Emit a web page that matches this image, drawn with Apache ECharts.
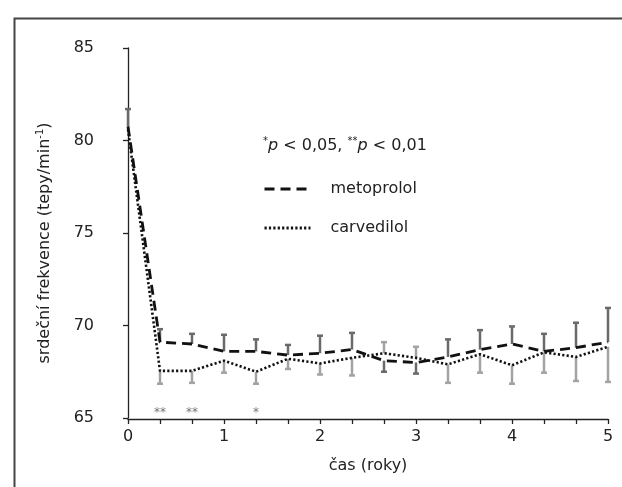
<!DOCTYPE html>
<html>
<head>
<meta charset="utf-8">
<script src="https://cdn.jsdelivr.net/npm/echarts@6/dist/echarts.min.js"></script>
<style>
html,body{margin:0;padding:0;background:#fff;}
#chart{width:622px;height:487px;}
</style>
</head>
<body>
<div id="chart"></div>
<script>
// time points in months (axis labels shown in years)
const months = [0, 4, 8, 12, 16, 20, 24, 28, 32, 36, 40, 44, 48, 52, 56, 60];
const metoprolol    = [80.75, 69.1, 69.0, 68.6, 68.6, 68.4, 68.5, 68.7, 68.1, 68.0, 68.3, 68.7, 69.0, 68.6, 68.8, 69.1];
const metoprololBar = [81.7, 69.8, 69.55, 69.5, 69.25, 68.95, 69.45, 69.6, 67.5, 67.4, 69.25, 69.75, 69.95, 69.55, 70.15, 70.95];
const carvedilol    = [80.6, 67.55, 67.55, 68.1, 67.5, 68.2, 67.95, 68.25, 68.5, 68.25, 67.9, 68.45, 67.85, 68.55, 68.3, 68.85];
const carvedilolBar = [null, 66.85, 66.9, 67.45, 66.85, 67.65, 67.35, 67.3, 69.1, 68.85, 66.9, 67.45, 66.85, 67.45, 67.0, 66.95];
const sigMonths = [4, 8, 16];
const sigMarks = ['**', '**', '*'];
const yTicks = {min: 65, max: 85, step: 5};
const xTicks = {min: 0, max: 60, step: 4};

const FONT = '"DejaVu Sans", "Liberation Sans", Arial, sans-serif';
const FS = 16;

function pairs(vals) { return months.map((m, i) => [m, vals[i]]); }
function bars(vals, ends) {
  const out = [];
  months.forEach((m, i) => { if (ends[i] != null) out.push([m, vals[i], ends[i]]); });
  return out;
}
function barRenderer(color) {
  return function (params, api) {
    const p0 = api.coord([api.value(0), api.value(1)]);
    const p1 = api.coord([api.value(0), api.value(2)]);
    const w = 3;
    return {
      type: 'group',
      children: [
        {type: 'line', shape: {x1: p0[0], y1: p0[1], x2: p1[0], y2: p1[1]}, style: {stroke: color, lineWidth: 2.5}},
        {type: 'line', shape: {x1: p1[0] - w, y1: p1[1], x2: p1[0] + w, y2: p1[1]}, style: {stroke: color, lineWidth: 2.5}}
      ]
    };
  };
}

const chart = echarts.init(document.getElementById('chart'), null, {renderer: 'canvas'});
chart.setOption({
  animation: false,
  backgroundColor: '#fff',
  textStyle: {fontFamily: FONT},
  graphic: [
    {type: 'rect', left: 12, top: 16, shape: {width: 640, height: 500}, style: {fill: 'none', stroke: '#444', lineWidth: 2}, silent: true},
    {
      type: 'text', left: 263, top: 136,
      style: {
        text: '{sup|*}{it|p} < 0,05, {sup|**}{it|p} < 0,01',
        fill: '#222',
        font: FS + 'px ' + FONT,
        rich: {
          sup: {fontSize: 10, fontFamily: FONT, verticalAlign: 'top', lineHeight: 19, fill: '#222'},
          it: {fontSize: FS, fontFamily: FONT, fontStyle: 'italic', lineHeight: 19, fill: '#222'}
        }
      }
    }
  ],
  legend: {
    data: ['metoprolol', 'carvedilol'],
    orient: 'vertical',
    left: 263,
    top: 181,
    padding: 0,
    itemWidth: 46,
    itemHeight: 14,
    itemGap: 23,
    itemStyle: {opacity: 0},
    lineStyle: {width: 3},
    textStyle: {fontSize: FS, color: '#222', fontFamily: FONT, padding: [0, 0, 0, 15]},
    selectedMode: false
  },
  grid: {left: 128, right: 14, top: 48, bottom: 69, containLabel: false},
  xAxis: {
    type: 'value',
    min: xTicks.min, max: xTicks.max, interval: xTicks.step,
    offset: 1,
    name: 'čas (roky)',
    nameLocation: 'middle',
    nameGap: 39,
    nameTextStyle: {fontSize: FS, color: '#222', fontFamily: FONT},
    axisLine: {show: true, lineStyle: {color: '#222', width: 1.3}},
    axisTick: {show: true, length: 5, lineStyle: {color: '#222', width: 1.3}},
    axisLabel: {
      fontSize: FS, color: '#222', margin: 10, fontFamily: FONT,
      formatter: v => (v % 12 === 0 ? String(v / 12) : '')
    },
    splitLine: {show: false}
  },
  yAxis: {
    type: 'value',
    min: yTicks.min, max: yTicks.max, interval: yTicks.step,
    offset: 24,
    name: 'srdeční frekvence (tepy/min{sup|-1})',
    nameLocation: 'middle',
    nameGap: 50,
    nameTextStyle: {
      fontSize: FS, color: '#222', fontFamily: FONT,
      padding: [0, 20, 0, 0],
      rich: {sup: {fontSize: 10, verticalAlign: 'top', lineHeight: 19, color: '#222', fontFamily: FONT}}
    },
    axisLine: {show: true, lineStyle: {color: '#222', width: 1.3}},
    axisTick: {show: true, length: 5, lineStyle: {color: '#222', width: 1.3}},
    axisLabel: {fontSize: FS, color: '#222', margin: 10, fontFamily: FONT},
    splitLine: {show: false}
  },
  series: [
    {
      type: 'custom', name: 'metoprolol SEM', z: 1,
      renderItem: barRenderer('#6a6a6a'),
      data: bars(metoprolol, metoprololBar),
      encode: {x: 0, y: [1, 2]}
    },
    {
      type: 'custom', name: 'carvedilol SEM', z: 1,
      renderItem: barRenderer('#a3a3a3'),
      data: bars(carvedilol, carvedilolBar),
      encode: {x: 0, y: [1, 2]}
    },
    {
      type: 'line', name: 'metoprolol', z: 3,
      data: pairs(metoprolol),
      showSymbol: false, symbol: 'none',
      color: '#111',
      lineStyle: {color: '#111', width: 2.8, type: [10, 6]}
    },
    {
      type: 'line', name: 'carvedilol', z: 3,
      data: pairs(carvedilol),
      showSymbol: false, symbol: 'none',
      color: '#111',
      lineStyle: {color: '#111', width: 2.6, type: [2.2, 2.2]}
    },
    {
      type: 'scatter', name: 'significance', z: 4,
      data: sigMonths.map((m, i) => [m, 65.3, sigMarks[i]]),
      symbolSize: 1,
      itemStyle: {color: 'rgba(0,0,0,0)'},
      label: {
        show: true, position: 'inside',
        formatter: p => p.value[2],
        fontSize: 12, color: '#555', fontFamily: FONT
      }
    }
  ]
});
</script>
</body>
</html>
